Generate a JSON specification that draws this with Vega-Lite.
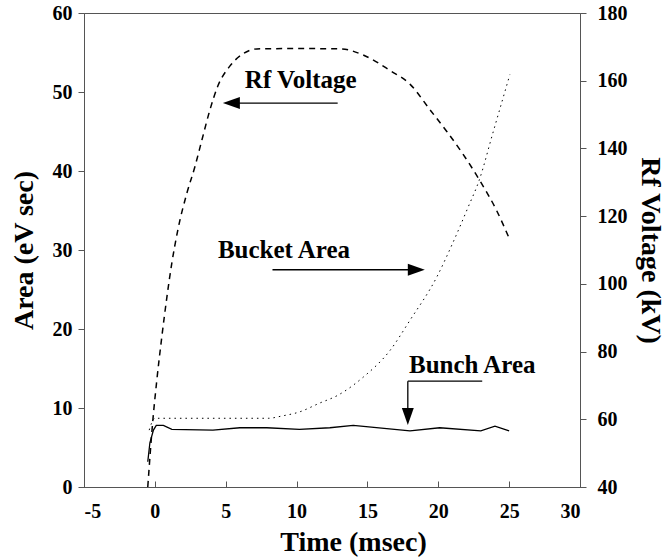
{
  "$schema": "https://vega.github.io/schema/vega-lite/v6.json",
  "autosize": "none",
  "width": 496,
  "height": 474,
  "padding": {"left": 84, "top": 13, "right": 87, "bottom": 73},
  "background": "white",
  "config": {
    "font": "Liberation Serif",
    "view": {"stroke": "#555", "strokeWidth": 1},
    "axis": {
      "grid": false,
      "domainColor": "#555",
      "tickColor": "#555",
      "labelFont": "Liberation Serif",
      "labelFontWeight": "bold",
      "labelFontSize": 20,
      "labelColor": "black",
      "labelExpr": "'' + datum.value",
      "titleFont": "Liberation Serif",
      "titleFontWeight": "bold",
      "titleFontSize": 28,
      "titleColor": "black"
    }
  },
  "datasets": {
    "rf": [
      {"t": -0.5, "kv": 40}, {"t": -0.14, "kv": 59.8}, {"t": 0.14, "kv": 71.6}, {"t": 0.49, "kv": 84.3},
      {"t": 0.85, "kv": 96.1}, {"t": 1.2, "kv": 106.2}, {"t": 1.62, "kv": 115.9}, {"t": 2.26, "kv": 126.8},
      {"t": 2.82, "kv": 134.5}, {"t": 3.32, "kv": 142.5}, {"t": 3.88, "kv": 151.3}, {"t": 4.45, "kv": 158.5},
      {"t": 5.29, "kv": 164.3}, {"t": 6.2, "kv": 167.9}, {"t": 7.2, "kv": 169.4}, {"t": 10, "kv": 169.5},
      {"t": 13.1, "kv": 169.4}, {"t": 14.7, "kv": 167.6}, {"t": 16.6, "kv": 163}, {"t": 18, "kv": 159},
      {"t": 19.4, "kv": 151.5}, {"t": 20.6, "kv": 145}, {"t": 21.7, "kv": 138.6}, {"t": 22.9, "kv": 130.7},
      {"t": 24.1, "kv": 121.8}, {"t": 25, "kv": 113.5}
    ],
    "bucket": [
      {"t": -0.4, "a": 7.2}, {"t": 0, "a": 8.7}, {"t": 2, "a": 8.7}, {"t": 5, "a": 8.7}, {"t": 8, "a": 8.7},
      {"t": 9, "a": 9.0}, {"t": 10.2, "a": 9.5}, {"t": 11.6, "a": 10.6}, {"t": 12.9, "a": 11.6},
      {"t": 14.7, "a": 13.9}, {"t": 16.6, "a": 17.3}, {"t": 18, "a": 21.1}, {"t": 19.9, "a": 26.6},
      {"t": 21, "a": 30.8}, {"t": 22.1, "a": 35.4}, {"t": 22.9, "a": 38.9}, {"t": 23.85, "a": 44.8},
      {"t": 25.05, "a": 52.2}
    ],
    "bunch": [
      {"t": -0.5, "a": 3.2}, {"t": -0.35, "a": 5.6}, {"t": -0.1, "a": 7.2}, {"t": 0.1, "a": 7.8},
      {"t": 0.6, "a": 7.8}, {"t": 1.2, "a": 7.3}, {"t": 4.1, "a": 7.2}, {"t": 6, "a": 7.5},
      {"t": 7.9, "a": 7.5}, {"t": 10.2, "a": 7.3}, {"t": 12.35, "a": 7.5}, {"t": 14, "a": 7.8},
      {"t": 18, "a": 7.1}, {"t": 20.1, "a": 7.5}, {"t": 23, "a": 7.1}, {"t": 24, "a": 7.7}, {"t": 25, "a": 7.1}
    ],
    "labels": [
      {"t": 6.35, "a": 50.5, "label": "Rf Voltage"},
      {"t": 4.45, "a": 29.0, "label": "Bucket Area"},
      {"t": 17.93, "a": 14.4, "label": "Bunch Area"}
    ],
    "arrows": [
      {"t": 12.9, "a": 48.6, "t2": 5.5, "a2": 48.6},
      {"t": 8.3, "a": 27.5, "t2": 18.5, "a2": 27.5},
      {"t": 23.1, "a": 13.4, "t2": 17.85, "a2": 13.4},
      {"t": 17.85, "a": 13.4, "t2": 17.85, "a2": 9.0}
    ],
    "heads": [
      {"t": 4.8, "a": 48.6, "shape": "M0,0L2,-0.7L2,0.7Z"},
      {"t": 19.05, "a": 27.5, "shape": "M0,0L-2,-0.7L-2,0.7Z"},
      {"t": 17.85, "a": 7.85, "shape": "M0,0L-0.7,-2L0.7,-2Z"}
    ]
  },
  "resolve": {"scale": {"y": "independent"}},
  "layer": [
    {
      "encoding": {
        "x": {
          "field": "t", "type": "quantitative",
          "scale": {"domain": [-5, 30], "nice": false, "zero": false},
          "axis": {"values": [-5, 0, 5, 10, 15, 20, 25, 30], "title": "Time (msec)", "tickSize": -6, "labelPadding": 20,
            "titleX": 269, "titleY": 63, "titleAlign": "center", "titleBaseline": "alphabetic", "titleAnchor": null}
        },
        "y": {
          "field": "a", "type": "quantitative",
          "scale": {"domain": [0, 60], "nice": false},
          "axis": {"values": [0, 10, 20, 30, 40, 50, 60], "title": "Area (eV sec)", "tickSize": 6, "labelPadding": 6,
            "titleX": -60, "titleY": 237, "titleAngle": 270, "titleAlign": "center", "titleBaseline": "middle", "titleAnchor": null}
        }
      },
      "layer": [
        {"data": {"name": "bucket"}, "mark": {"type": "line", "color": "black", "strokeWidth": 1, "strokeDash": [1.5, 4], "interpolate": "monotone"}},
        {"data": {"name": "bunch"}, "mark": {"type": "line", "color": "black", "strokeWidth": 1.3}},
        {"data": {"name": "labels"}, "mark": {"type": "text", "font": "Liberation Serif", "fontWeight": "bold", "fontSize": 25, "color": "black", "align": "left", "baseline": "alphabetic"},
          "encoding": {"text": {"field": "label"}}},
        {"data": {"name": "arrows"}, "mark": {"type": "rule", "color": "black", "strokeWidth": 1.3},
          "encoding": {"x2": {"field": "t2"}, "y2": {"field": "a2"}}},
        {"data": {"name": "heads"}, "mark": {"type": "point", "filled": true, "color": "black", "opacity": 1, "size": 289, "strokeWidth": 0},
          "encoding": {"shape": {"field": "shape", "type": "nominal", "scale": null, "legend": null}}}
      ]
    },
    {
      "data": {"name": "rf"},
      "mark": {"type": "line", "color": "black", "strokeWidth": 1.5, "strokeDash": [6, 5], "interpolate": "monotone"},
      "encoding": {
        "x": {"field": "t", "type": "quantitative"},
        "y": {
          "field": "kv", "type": "quantitative",
          "scale": {"domain": [40, 180], "nice": false, "zero": false},
          "axis": {"orient": "right", "values": [40, 60, 80, 100, 120, 140, 160, 180], "title": "Rf Voltage (kV)", "tickSize": 6, "labelPadding": 11,
            "titleX": 69, "titleY": 237, "titleAngle": 90, "titleAlign": "center", "titleBaseline": "middle", "titleAnchor": null}
        }
      }
    }
  ]
}
